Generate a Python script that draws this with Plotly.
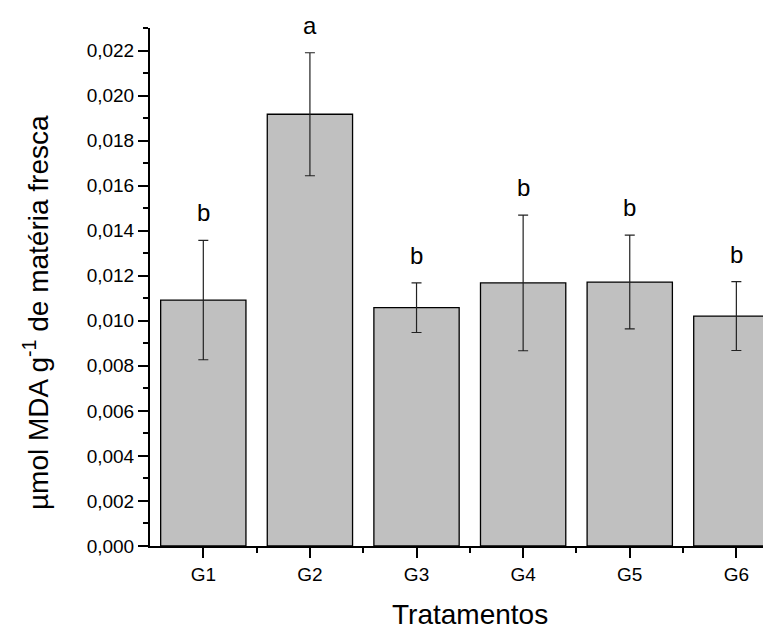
import plotly.graph_objects as go

categories = ["G1", "G2", "G3", "G4", "G5", "G6"]
means = [0.01092, 0.01917, 0.01058, 0.01168, 0.01172, 0.01021]
errors = [0.00265, 0.00273, 0.00110, 0.00301, 0.00208, 0.00153]
letters = ["b", "a", "b", "b", "b", "b"]
y_ticks = [0.000, 0.002, 0.004, 0.006, 0.008, 0.010, 0.012, 0.014, 0.016, 0.018, 0.020, 0.022]

positions = [i + 1 for i in range(len(categories))]
minor_positions = [p + 0.5 for p in positions[:-1]]

FONT = "Liberation Sans, Arial, sans-serif"

fig = go.Figure()
fig.add_trace(go.Bar(
    x=positions, y=means, width=0.8,
    marker=dict(color="#c0c0c0", line=dict(color="black", width=1.3)),
    error_y=dict(type="data", array=errors, visible=True,
                 color="#222222", thickness=1.2, width=5),
    showlegend=False,
))

for p, m, e, t in zip(positions, means, errors, letters):
    fig.add_annotation(x=p, y=m + e, text=t, showarrow=False,
                       xref="x", yref="y", yanchor="bottom", yshift=12,
                       font=dict(family=FONT, size=24, color="black"))

# axis titles as annotations (positioned like the reference)
fig.add_annotation(text="Tratamentos", xref="paper", yref="paper",
                   x=0.508, y=-0.132, xanchor="center", yanchor="middle",
                   showarrow=False, font=dict(family=FONT, size=28, color="black"))
fig.add_annotation(text="µmol MDA g<sup>-1</sup> de matéria fresca", xref="paper", yref="paper",
                   x=-0.181, y=0.45, xanchor="center", yanchor="middle", textangle=-90,
                   showarrow=False, font=dict(family=FONT, size=28, color="black"))

fig.update_layout(
    width=771, height=629,
    margin=dict(l=142, r=0, t=20, b=91),
    plot_bgcolor="white", paper_bgcolor="white",
    separators=",.",
    font=dict(family=FONT, color="black"),
)

fig.update_xaxes(
    range=[0.5, 6.4],
    tickmode="array", tickvals=positions, ticktext=categories,
    ticks="outside", ticklen=10, tickwidth=1.5, tickcolor="black",
    minor=dict(tickmode="array", tickvals=minor_positions, ticks="outside",
               ticklen=5, tickwidth=1.5, tickcolor="black"),
    showline=True, linecolor="black", linewidth=2,
    showgrid=False, zeroline=False,
    tickfont=dict(family=FONT, size=19, color="black"),
)

fig.update_yaxes(
    range=[0, 0.023],
    tickmode="array", tickvals=y_ticks, tickformat=".3f",
    ticks="outside", ticklen=10, tickwidth=1.5, tickcolor="black",
    minor=dict(dtick=0.001, tick0=0, ticks="outside",
               ticklen=5, tickwidth=1.5, tickcolor="black"),
    showline=True, linecolor="black", linewidth=2,
    showgrid=False, zeroline=False,
    tickfont=dict(family=FONT, size=19, color="black"),
)

fig.write_html("out.html")
